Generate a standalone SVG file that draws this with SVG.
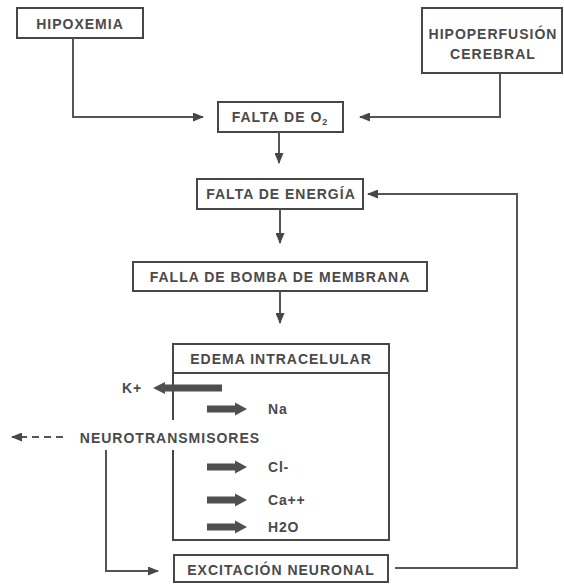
<svg xmlns="http://www.w3.org/2000/svg" width="564" height="585" viewBox="0 0 564 585">
<style>
  .box { fill: #ffffff; stroke: #474747; stroke-width: 2; }
  .t { font-family: "Liberation Sans", Arial, sans-serif; font-weight: bold; font-size: 14px; fill: #4a4a4a; letter-spacing: 1px; text-anchor: middle; }
  .s { font-family: "Liberation Sans", Arial, sans-serif; font-weight: bold; font-size: 14px; fill: #4a4a4a; letter-spacing: 0.8px; }
  .c { fill: none; stroke: #555555; stroke-width: 2; }
  .d { fill: none; stroke: #555555; stroke-width: 2; stroke-dasharray: 7 5; }
  .fat { fill: #4f4f4f; }
</style>
<defs>
  <marker id="ah" markerWidth="11" markerHeight="9" refX="10" refY="4.5" orient="auto" markerUnits="userSpaceOnUse">
    <path d="M0,0 L11,4.5 L0,9 Z" fill="#474747"/>
  </marker>
  <path id="fatR" d="M0,-3.5 L28,-3.5 L28,-6.5 L40,0 L28,6.5 L28,3.5 L0,3.5 Z"/>
</defs>
<rect width="564" height="585" fill="#ffffff"/>

<g id="hipoxemia">
  <rect class="box" x="17" y="8" width="126" height="30"/>
  <text class="t" x="80" y="29">HIPOXEMIA</text>
</g>
<g id="hipoperfusion">
  <rect class="box" x="422" y="8" width="140" height="65"/>
  <text class="t" x="493" y="39">HIPOPERFUSIÓN</text>
  <text class="t" x="493" y="59">CEREBRAL</text>
</g>
<g id="falta-o2">
  <rect class="box" x="218" y="102" width="125" height="30"/>
  <text class="t" x="280" y="122">FALTA DE O<tspan font-size="9" dy="3">2</tspan></text>
</g>
<g id="falta-energia">
  <rect class="box" x="197" y="179" width="166" height="30"/>
  <text class="t" x="281" y="199">FALTA DE ENERGÍA</text>
</g>
<g id="falla-bomba">
  <rect class="box" x="133" y="262" width="294" height="29"/>
  <text class="t" x="280" y="282">FALLA DE BOMBA DE MEMBRANA</text>
</g>
<g id="edema">
  <path class="box" fill="none" d="M173,420 L173,344 L389,344 L389,540 L173,540 L173,450"/>
  <line x1="173" y1="373" x2="389" y2="373" stroke="#474747" stroke-width="2"/>
  <text class="t" x="281" y="364">EDEMA INTRACELULAR</text>
  <path class="fat" d="M222,384.5 L165,384.5 L165,382 L153,388 L165,394 L165,391.5 L222,391.5 Z"/>
  <text class="s" x="122" y="393">K+</text>
  <use href="#fatR" class="fat" x="207" y="409"/>
  <text class="s" x="268" y="414">Na</text>
  <use href="#fatR" class="fat" x="207" y="467"/>
  <text class="s" x="268" y="472">Cl-</text>
  <use href="#fatR" class="fat" x="207" y="500"/>
  <text class="s" x="268" y="505">Ca++</text>
  <use href="#fatR" class="fat" x="207" y="527"/>
  <text class="s" x="268" y="532">H2O</text>
</g>
<g id="neurotransmisores">
  <text class="t" x="170" y="443">NEUROTRANSMISORES</text>
</g>
<g id="excitacion">
  <rect class="box" x="174" y="555" width="214" height="27"/>
  <text class="t" x="281" y="575">EXCITACIÓN NEURONAL</text>
</g>

<g id="connectors">
  <path class="c" d="M73,38 L73,117 L203,117" marker-end="url(#ah)"/>
  <path class="c" d="M500,73 L500,117 L360,117" marker-end="url(#ah)"/>
  <path class="c" d="M279,132 L279,163" marker-end="url(#ah)"/>
  <path class="c" d="M280,209 L280,243" marker-end="url(#ah)"/>
  <path class="c" d="M280,291 L280,323" marker-end="url(#ah)"/>
  <path class="c" d="M395,568 L517,568 L517,194 L368,194" marker-end="url(#ah)"/>
  <path class="c" d="M106,450 L106,571 L158,571" marker-end="url(#ah)"/>
  <path class="d" d="M63,437 L12,437" marker-end="url(#ah)"/>
</g>
</svg>
